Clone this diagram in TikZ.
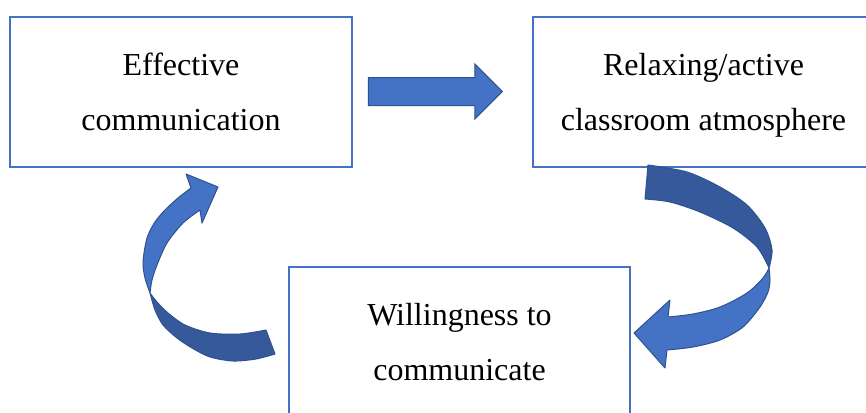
\documentclass[tikz,border=0pt]{standalone}
\usepackage{fontspec}
\setmainfont{Liberation Serif}
\usetikzlibrary{shapes.arrows}
\definecolor{boxblue}{RGB}{68,114,196}
\definecolor{arrowblue}{RGB}{68,114,196}
\definecolor{arrowdark}{RGB}{53,89,155}
\definecolor{arrowline}{RGB}{47,82,143}
\tikzset{
  stagebox/.style={draw=boxblue, line width=1.2pt, minimum width=341pt,
    minimum height=150pt, inner sep=0pt, align=center,
    font=\fontsize{32}{55.5}\selectfont},
  frontpart/.style={fill=arrowblue, draw=arrowline, line width=1pt, line join=round},
  backpart/.style={fill=arrowdark, draw=arrowline, line width=1pt, line join=round},
  blockarrow/.style={single arrow, draw=arrowline, fill=arrowblue, line width=1pt,
    inner sep=0pt, text height=13.5pt, text depth=13.5pt,
    single arrow head extend=13.5pt, single arrow tip angle=90,
    minimum height=134pt, minimum width=54pt}
}
\begin{document}
\begin{tikzpicture}[x=1pt,y=-1pt]
  \clip (0,0) rectangle (866,412);
  \fill[white] (0,0) rectangle (866,412);
  %%%%%%%%%%%%%The three boxes%%%%%%%%%%%%%%%%%%%%%%
  \node[stagebox, minimum width=342pt] (effcom) at (181,92) {\strut Effective\\communication\strut};
  \node[stagebox] (relax) at (703.5,92) {\strut Relaxing/active\\classroom atmosphere\strut};
  \node[stagebox] (willing) at (459.5,342) {\strut Willingness to\\communicate\strut};

  %%%%%%%%%%%%%Straight arrow%%%%%%%%%%%%%%%%%%%%%%
  \node[blockarrow, anchor=tip] (fwd) at (503,91.5) {};

  %%%%%%%%%%%%%Right curved arrow%%%%%%%%%%%%%%%%%%%%%%
  \filldraw[backpart] plot[smooth] coordinates {(648,165) (687,172) (720,187) (747,205) (765,228) (772,250) (769,268)}
    -- plot[smooth] coordinates {(769,268) (757,247) (733,228) (700,212) (670,202) (645,199)} -- cycle;
  \filldraw[frontpart] plot[smooth] coordinates {(769,268) (770,280) (768,292) (760,307) (743,327) (720,340) (693,347) (667,350)}
    -- (665,368) -- (634,333) -- (670,300) -- (668,317)
    -- plot[smooth] coordinates {(668,317) (693,314) (720,307) (747,293) (763,278) (769,268)} -- cycle;

  %%%%%%%%%%%%%Left curved arrow%%%%%%%%%%%%%%%%%%%%%%
  \filldraw[backpart] plot[smooth] coordinates {(150,293) (155,310) (163,325) (177,338) (192,348) (210,357) (233,361) (256,359) (275,354)}
    -- (266,330)
    -- plot[smooth] coordinates {(266,330) (240,334) (210,333) (185,325) (168,313) (157,302) (150,293)} -- cycle;
  \filldraw[frontpart] plot[smooth] coordinates {(150,293) (145,278) (143,262) (147,238) (155,222) (165,210) (178,198) (191,188)}
    -- (186,174) -- (218,187) -- (202,223) -- (200,210)
    -- plot[smooth] coordinates {(200,210) (183,223) (167,243) (157,265) (152,280) (150,293)} -- cycle;
\end{tikzpicture}
\end{document}
